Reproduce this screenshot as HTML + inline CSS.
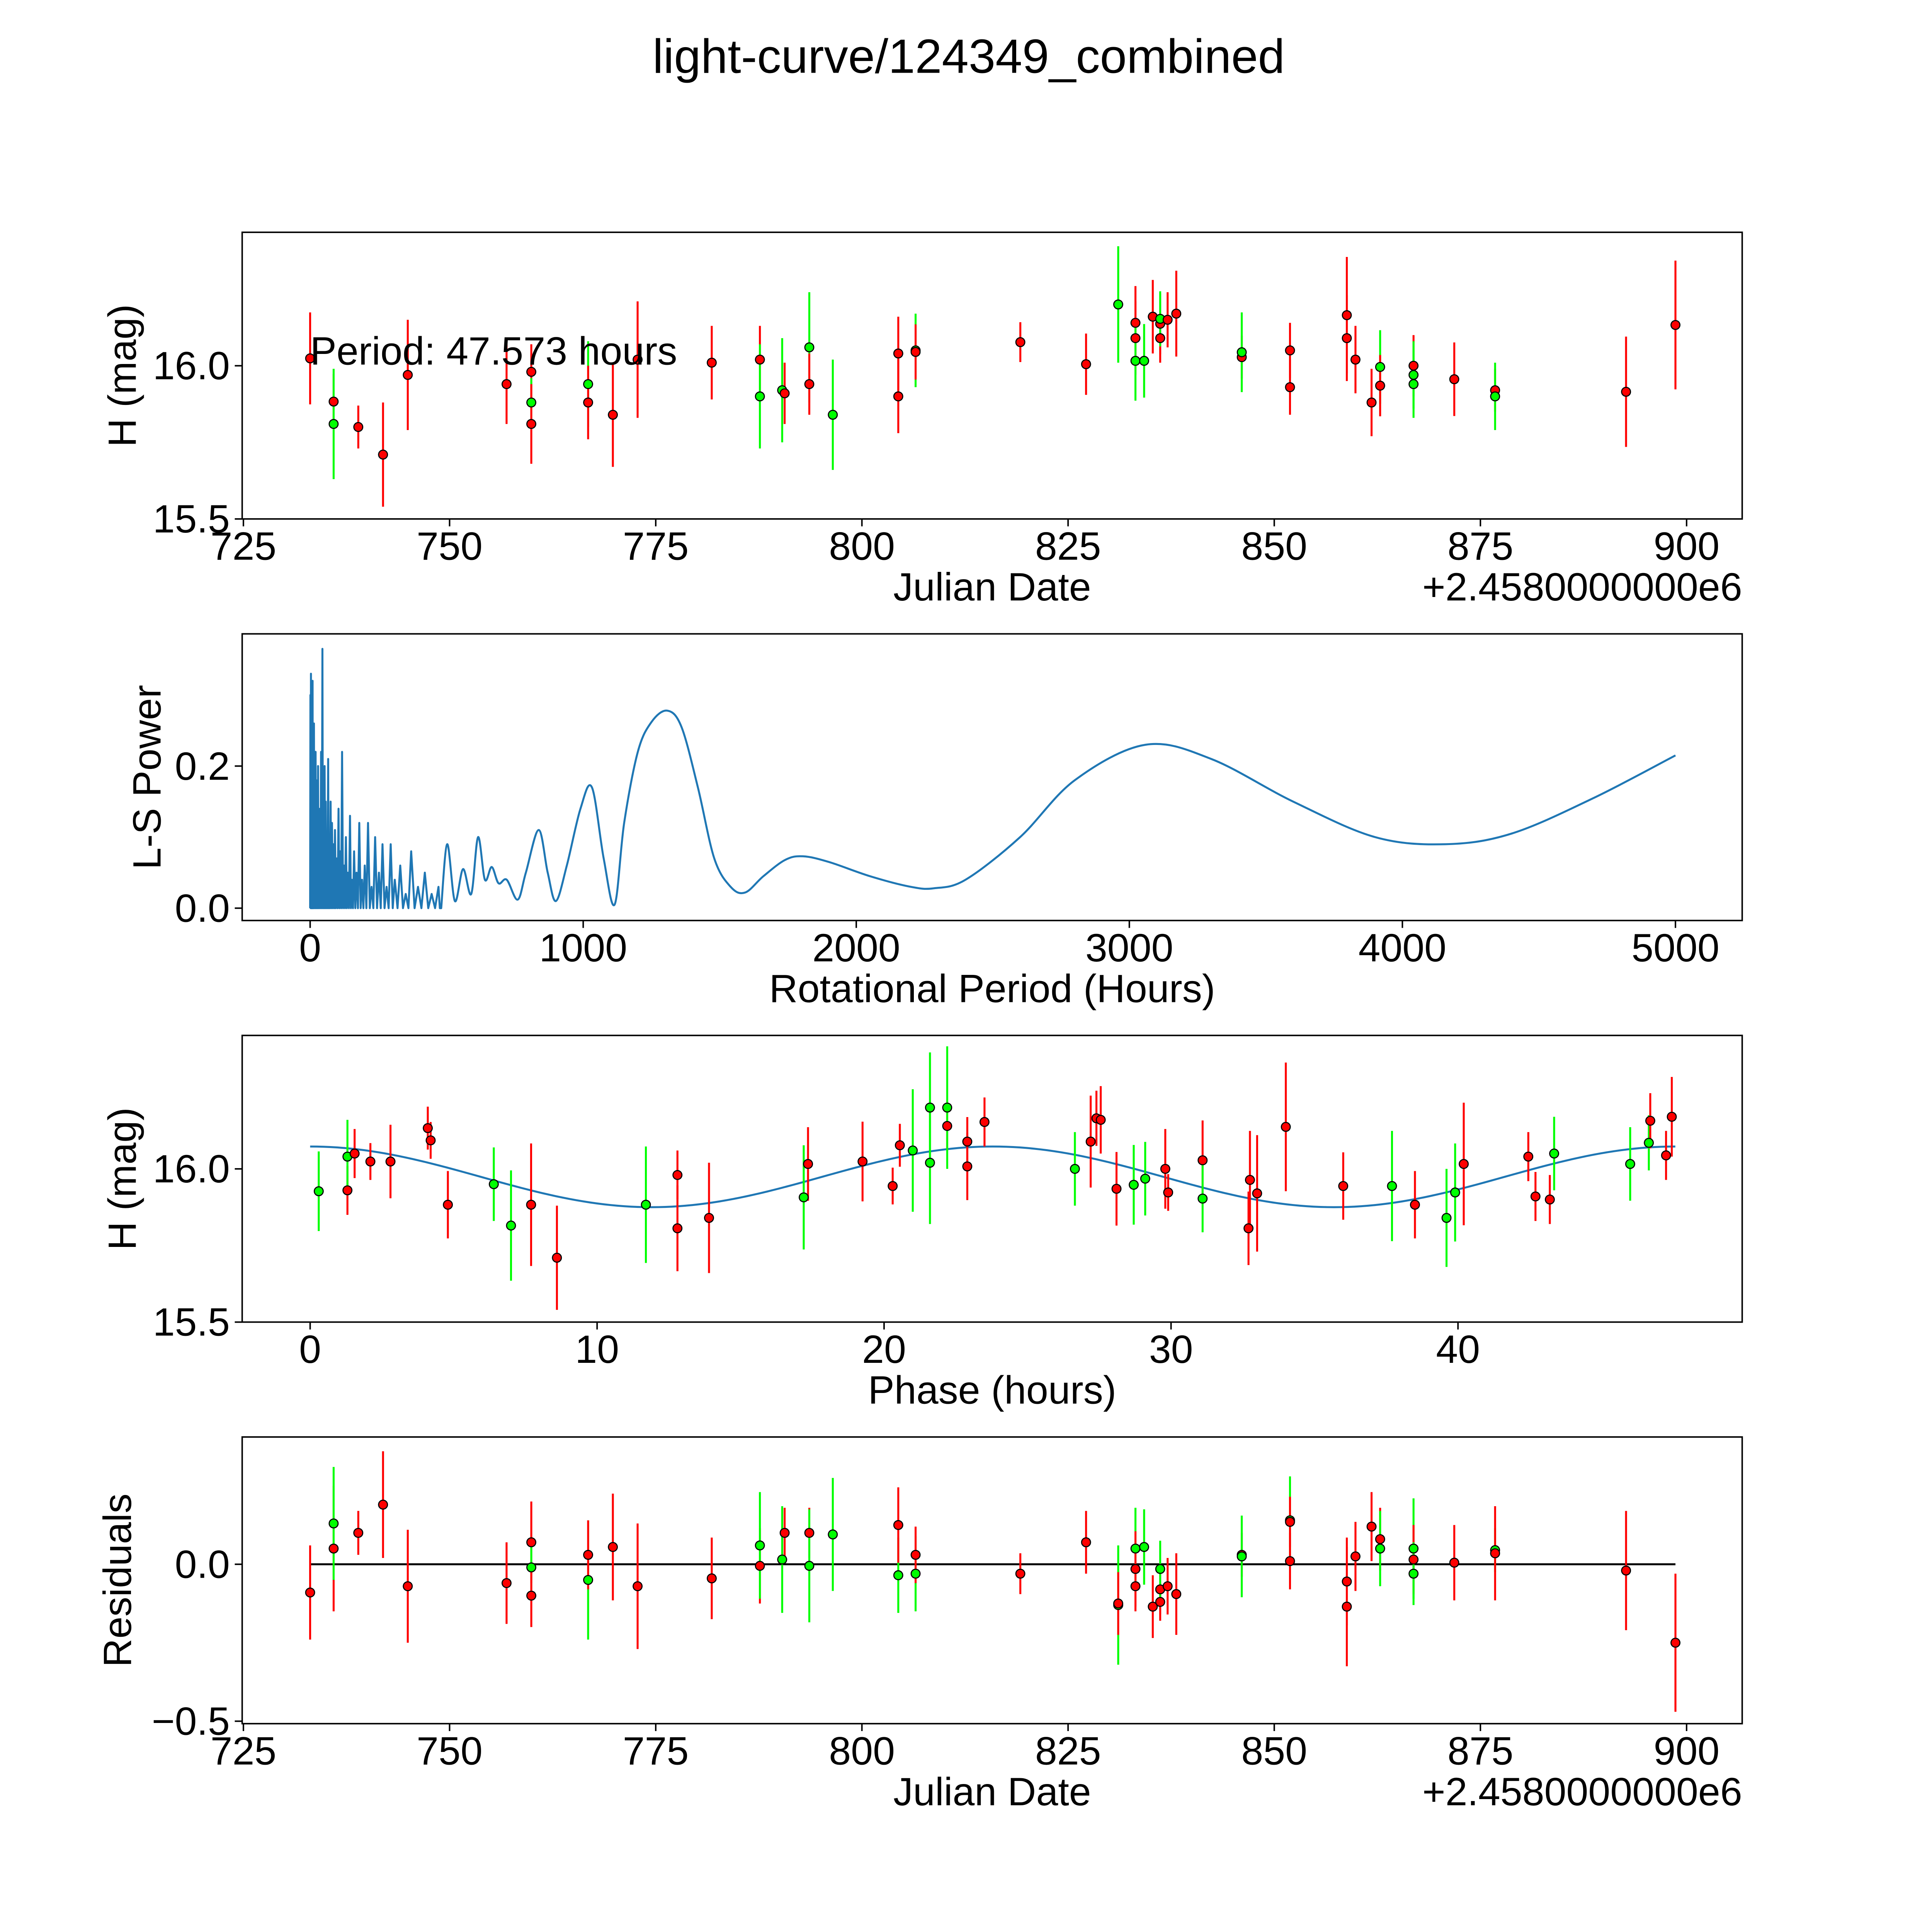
<!DOCTYPE html>
<html><head><meta charset="utf-8"><style>
html,body{margin:0;padding:0;background:#fff;overflow:hidden}
svg{display:block}
text{font-family:"Liberation Sans","DejaVu Sans",sans-serif;fill:#000}
</style></head><body>
<svg id="fig" width="5014" height="5014" viewBox="0 0 1568 1568" xmlns="http://www.w3.org/2000/svg">
<rect width="1568" height="1568" fill="#fff"/>
<text x="784" y="59" font-size="39" text-anchor="middle">light-curve/124349_combined</text>
</svg>
<script>
// ---- Panel 1 data: dates, magnitudes, errors, filter colors ----
const obsDates=[733.09,735.94,735.94,738.93,741.93,744.93,756.91,759.91,759.91,759.91,766.80,766.80,769.80,772.80,781.79,787.63,787.63,790.33,790.63,793.62,793.62,796.47,804.41,804.41,806.51,806.51,819.21,827.18,831.08,833.17,833.17,833.17,834.22,835.27,836.17,836.17,836.17,837.07,838.12,846.06,846.06,851.91,851.91,858.80,858.80,859.85,861.80,862.84,862.84,866.89,866.89,866.89,871.83,876.78,876.78,892.66,898.65];
const obsMags=[16.024,15.883,15.81,15.80,15.71,15.97,15.94,15.98,15.88,15.81,15.94,15.88,15.84,16.02,16.01,16.02,15.90,15.92,15.91,16.06,15.94,15.84,16.04,15.90,16.05,16.045,16.077,16.005,16.2,16.14,16.09,16.016,16.016,16.16,16.137,16.09,16.153,16.15,16.17,16.028,16.044,16.05,15.93,16.165,16.09,16.02,15.88,15.996,15.935,16.0,15.97,15.94,15.956,15.92,15.90,15.915,16.133];
const obsErrs=[0.15,0.09,0.18,0.07,0.17,0.18,0.13,0.09,0.08,0.13,0.14,0.12,0.17,0.19,0.12,0.11,0.17,0.17,0.10,0.18,0.10,0.18,0.12,0.12,0.12,0.09,0.065,0.10,0.19,0.12,0.12,0.13,0.12,0.12,0.10,0.08,0.09,0.09,0.14,0.07,0.13,0.09,0.09,0.19,0.14,0.11,0.11,0.12,0.10,0.10,0.11,0.11,0.12,0.07,0.11,0.18,0.21];
const obsColors="rrgrrrrrgrgrrrrrggrgrgrrgrrrgrrggrrrgrrrgrrrrrrgrrggrrgrr";
// ---- Panel 2: periodogram ----
const spikePeriods=[1,3,5,7,9,11,14,17,20,23,26,29,32,36,40,45,49,53,57,61,66,70,75,80,86,91,97,104,110,117,124,131,138,146,153,161,170,180,190,200,212,225,238,252,265,280,295,310,330,350,370,395,420,445,470];
const spikePowers=[0.30,0.33,0.28,0.25,0.32,0.20,0.26,0.15,0.22,0.18,0.12,0.20,0.10,0.14,0.22,0.365,0.12,0.20,0.15,0.10,0.21,0.08,0.15,0.12,0.09,0.11,0.07,0.14,0.08,0.22,0.06,0.10,0.05,0.13,0.04,0.08,0.05,0.12,0.04,0.06,0.12,0.03,0.10,0.05,0.09,0.03,0.09,0.04,0.06,0.02,0.08,0.03,0.05,0.02,0.03];
const smoothPeriods=[480,502,530,560,590,615,640,665,690,720,760,790,837,870,900,940,990,1032,1075,1115,1150,1200,1250,1308,1360,1420,1480,1540,1593,1660,1740,1805,1900,2050,2200,2285,2400,2600,2800,3059,3300,3600,3900,4158,4400,4700,5000];
const smoothPowers=[0.0,0.09,0.01,0.055,0.02,0.1,0.04,0.058,0.035,0.04,0.012,0.05,0.11,0.05,0.01,0.06,0.14,0.17,0.07,0.005,0.12,0.22,0.262,0.278,0.255,0.17,0.07,0.03,0.022,0.045,0.068,0.073,0.065,0.045,0.03,0.028,0.04,0.1,0.18,0.23,0.21,0.15,0.1,0.09,0.105,0.155,0.215];
// ---- Panel 3: phase-folded ----
const phases=[0.3,1.3,1.3,1.55,2.1,2.8,4.1,4.2,4.8,6.4,7.0,7.7,8.6,11.7,12.8,12.8,13.9,17.2,17.35,19.25,20.3,20.55,21.0,21.6,21.6,22.2,22.2,22.9,22.9,23.5,26.65,27.2,27.4,27.55,28.1,28.7,29.1,29.8,29.9,31.1,31.1,32.7,32.75,33.0,34.0,36.0,37.7,38.5,39.6,39.9,40.2,42.45,42.7,43.2,43.35,46.0,46.65,46.7,47.25,47.45];
const phaseMags=[15.927,15.93,16.04,16.05,16.024,16.024,16.133,16.093,15.883,15.95,15.815,15.883,15.71,15.883,15.806,15.98,15.84,15.907,16.016,16.024,15.944,16.077,16.06,16.02,16.2,16.14,16.2,16.008,16.089,16.153,16.0,16.089,16.165,16.16,15.935,15.948,15.968,16.0,15.923,16.028,15.903,15.806,15.964,15.92,16.137,15.944,15.944,15.883,15.84,15.923,16.016,16.04,15.91,15.9,16.05,16.016,16.085,16.157,16.044,16.17];
const phaseErrs=[0.13,0.08,0.12,0.08,0.06,0.12,0.07,0.06,0.11,0.12,0.18,0.2,0.17,0.19,0.14,0.08,0.18,0.17,0.12,0.13,0.06,0.07,0.2,0.2,0.18,0.08,0.2,0.11,0.08,0.08,0.12,0.15,0.09,0.11,0.12,0.13,0.12,0.13,0.06,0.13,0.11,0.12,0.16,0.19,0.21,0.11,0.18,0.11,0.16,0.16,0.2,0.08,0.08,0.08,0.12,0.12,0.09,0.09,0.08,0.13];
const phaseColors="grgrrrrrrggrrgrrrgrrrrgggrgrrrgrrrrggrrrgrrrrrgrggrrrrgggrrr";
const modelPeriod=47.573, modelMean=15.974, modelAmp=0.099;
// ---- Panel 4: residuals ----
const resDates=[733.09,735.94,735.94,738.93,741.93,744.93,756.91,759.91,759.91,759.91,766.80,766.80,769.80,772.80,781.79,787.63,787.63,790.33,790.63,793.62,793.62,796.47,804.41,804.41,806.51,806.51,819.21,827.18,831.08,831.08,833.17,833.17,833.17,834.22,835.27,836.17,836.17,836.17,837.07,838.12,846.06,846.06,851.91,851.91,851.91,858.80,858.80,859.85,861.80,862.84,862.84,866.89,866.89,866.89,871.83,876.78,876.78,892.66,898.65];
const resVals=[-0.09,0.05,0.13,0.10,0.19,-0.07,-0.06,0.07,-0.01,-0.10,-0.05,0.03,0.055,-0.07,-0.045,-0.005,0.06,0.015,0.10,0.10,-0.005,0.095,-0.035,0.125,-0.03,0.03,-0.03,0.07,-0.13,-0.125,0.05,-0.015,-0.07,0.055,-0.135,-0.08,-0.12,-0.015,-0.07,-0.095,0.03,0.025,0.14,0.135,0.01,-0.055,-0.135,0.025,0.12,0.08,0.05,0.05,0.015,-0.03,0.005,0.045,0.035,-0.02,-0.25];
const resErrs=[0.15,0.2,0.18,0.07,0.17,0.18,0.13,0.13,0.08,0.1,0.19,0.11,0.17,0.2,0.13,0.12,0.17,0.17,0.08,0.08,0.18,0.18,0.12,0.12,0.12,0.09,0.065,0.10,0.19,0.1,0.13,0.12,0.08,0.12,0.1,0.08,0.06,0.09,0.09,0.13,0.07,0.13,0.14,0.08,0.09,0.14,0.19,0.11,0.11,0.1,0.12,0.16,0.11,0.1,0.12,0.07,0.15,0.19,0.22];
const resColors="rrgrrrrrgrgrrrrrggrrgggrgrrrgrgrrgrrrgrrrggrrrrrrrggrgrgrr";

const svg=document.getElementById('fig');
const NS='http://www.w3.org/2000/svg';
function mk(tag,attrs,parent){const e=document.createElementNS(NS,tag);for(const k in attrs)e.setAttribute(k,attrs[k]);(parent||svg).appendChild(e);return e;}
function lin(d0,d1,r0,r1){return v=>r0+(v-d0)*(r1-r0)/(d1-d0);}
const L=196,R=1410;
const COL={r:'#ff0000',g:'#00ff00'};

function axes(name,top,bot,sx,sy,xt,yt,xlab,ylab,ylabX,offset){
  const g=mk('g',{});
  
  
  xt.forEach(t=>{const x=sx(t.v);
    mk('line',{x1:x,x2:x,y1:bot,y2:bot+6,stroke:'#000','stroke-width':1.2},g);
    const tx=mk('text',{x:x,y:bot+33,'font-size':32,'text-anchor':'middle'},g);tx.textContent=t.l;
    
    });
  yt.forEach(t=>{const y=sy(t.v);
    mk('line',{x1:L-6,x2:L,y1:y,y2:y,stroke:'#000','stroke-width':1.2},g);
    const tx=mk('text',{x:L-10,y:y+11,'font-size':32,'text-anchor':'end'},g);tx.textContent=t.l;
    
    });
  const xl=mk('text',{x:803,y:bot+66,'font-size':32,'text-anchor':'middle'},g);xl.textContent=xlab;
  
  
  const cy=(top+bot)/2;
  const yl=mk('text',{x:ylabX,y:cy,'font-size':32,'text-anchor':'middle',transform:`rotate(-90 ${ylabX} ${cy})`},g);yl.textContent=ylab;
  
  
  if(offset){const o=mk('text',{x:R,y:bot+66,'font-size':32,'text-anchor':'end'},g);o.textContent=offset;
    
    }
  return g;
}
function frame(top,bot){const f=mk('rect',{x:L,y:top,width:R-L,height:bot-top,fill:'none',stroke:'#000','stroke-width':1.2});
  
  }
function points(xs,ys,es,cols,sx,sy,name){
  const g=mk('g',{});
  
  
  xs.forEach((x,i)=>{const c=COL[cols[i]]||'#ff0000';
    mk('line',{x1:sx(x),x2:sx(x),y1:sy(ys[i]-es[i]),y2:sy(ys[i]+es[i]),stroke:c,'stroke-width':1.6},g);});
  xs.forEach((x,i)=>{const c=COL[cols[i]]||'#ff0000';
    const p=mk('circle',{cx:sx(x),cy:sy(ys[i]),r:3.6,fill:c,stroke:'#000','stroke-width':0.9},g);
    
    });
}
const jdTicks=[725,750,775,800,825,850,875,900].map(v=>({v,l:String(v)}));

// Panel 1
{const top=188,bot=420;const sx=lin(725,900,197,1365),sy=lin(15.5,16.0,420,296);
 axes('raw-light-curve-axes',top,bot,sx,sy,jdTicks,[{v:15.5,l:'15.5'},{v:16.0,l:'16.0'}],'Julian Date','H (mag)',110,'+2.4580000000e6');
 points(obsDates,obsMags,obsErrs,obsColors,sx,sy,'raw-observations');
 const t=mk('text',{x:251,y:295,'font-size':32});t.textContent='Period: 47.573 hours';
 
 
 frame(top,bot);}

// Panel 2
{const top=513,bot=745;const sx=lin(0,5000,251,1356),sy=lin(0,0.2,735,620);
 axes('periodogram-axes',top,bot,sx,sy,[0,1000,2000,3000,4000,5000].map(v=>({v,l:String(v)})),[{v:0,l:'0.0'},{v:0.2,l:'0.2'}],'Rotational Period (Hours)','L-S Power',130);
 let pts=[[sx(0),sy(0)]];
 spikePeriods.forEach((p,i)=>{pts.push([sx(p),sy(spikePowers[i])]);
   const nx=i+1<spikePeriods.length?(p+spikePeriods[i+1])/2:p+5;pts.push([sx(nx),sy(0)]);});
 let d='M'+pts.map(p=>p.join(',')).join(' L');
 const sp=smoothPeriods.map((p,i)=>[sx(p),sy(smoothPowers[i])]);
 d+=' L'+sp[0].join(',');
 for(let i=0;i<sp.length-1;i++){const p0=sp[Math.max(0,i-1)],p1=sp[i],p2=sp[i+1],p3=sp[Math.min(sp.length-1,i+2)];
   const c1=[p1[0]+(p2[0]-p0[0])/6,p1[1]+(p2[1]-p0[1])/6],c2=[p2[0]-(p3[0]-p1[0])/6,p2[1]-(p3[1]-p1[1])/6];
   d+=` C${c1[0]},${c1[1]} ${c2[0]},${c2[1]} ${p2[0]},${p2[1]}`;}
 const pl=mk('path',{d,fill:'none',stroke:'#1f77b4','stroke-width':1.6,'stroke-linejoin':'round'});
 
 
 frame(top,bot);}

// Panel 3
{const top=838,bot=1070;const sx=lin(0,40,251,1180),sy=lin(15.5,16.0,1070,946);
 axes('phase-folded-axes',top,bot,sx,sy,[0,10,20,30,40].map(v=>({v,l:String(v)})),[{v:15.5,l:'15.5'},{v:16.0,l:'16.0'}],'Phase (hours)','H (mag)',110);
 let d='';for(let k=0;k<=200;k++){const ph=modelPeriod*k/200;const m=modelMean+modelAmp*Math.cos(4*Math.PI*ph/modelPeriod);d+=(k?' L':'M')+sx(ph)+','+sy(m);}
 const ml=mk('path',{d,fill:'none',stroke:'#1f77b4','stroke-width':1.6});
 
 
 points(phases,phaseMags,phaseErrs,phaseColors,sx,sy,'phase-folded-observations');
 frame(top,bot);}

// Panel 4
{const top=1163,bot=1395;const sx=lin(725,900,197,1365),sy=lin(-0.5,0,1393,1266);
 axes('residuals-axes',top,bot,sx,sy,jdTicks,[{v:-0.5,l:'\u22120.5'},{v:0,l:'0.0'}],'Julian Date','Residuals',106,'+2.4580000000e6');
 const zl=mk('line',{x1:sx(733.09),x2:sx(898.65),y1:sy(0),y2:sy(0),stroke:'#000','stroke-width':1.6});
 
 
 points(resDates,resVals,resErrs,resColors,sx,sy,'residual-points');
 frame(top,bot);}
</script>
</body></html>
